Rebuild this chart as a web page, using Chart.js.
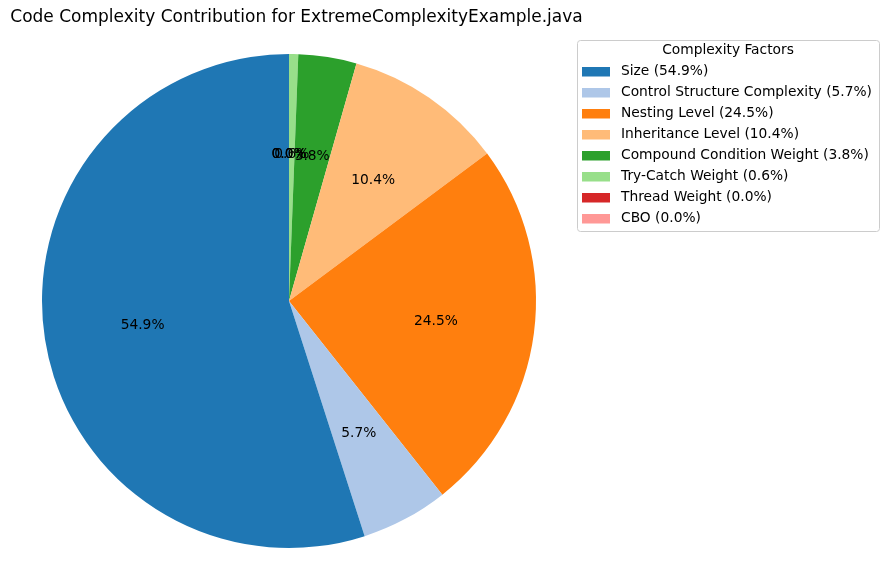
<!DOCTYPE html>
<html>
<head>
<meta charset="utf-8">
<script src="https://cdn.jsdelivr.net/npm/chart.js@4.4.0/dist/chart.umd.min.js"></script>
<style>
  html, body { margin: 0; padding: 0; background: #fff; }
  #wrap { width: 889px; height: 581px; position: relative; }
</style>
</head>
<body>
<div id="wrap"><canvas id="myChart" width="889" height="581"></canvas></div>
<script>
// complexity factors, in legend order (matplotlib draws them counterclockwise from the top)
const factorNames = [
  "Size",
  "Control Structure Complexity",
  "Nesting Level",
  "Inheritance Level",
  "Compound Condition Weight",
  "Try-Catch Weight",
  "Thread Weight",
  "CBO"
];
const factorShares = [54.9, 5.7, 24.5, 10.4, 3.8, 0.6, 0.0, 0.0];
const factorColors = ["#1f77b4", "#aec7e8", "#ff7f0e", "#ffbb78", "#2ca02c", "#98df8a", "#d62728", "#ff9896"];
const chartTitle = "Code Complexity Contribution for ExtremeComplexityExample.java";
const legendTitle = "Complexity Factors";

const FONT = "'DejaVu Sans', sans-serif";

// chart.js goes clockwise, so feed it the reversed order
const revNames = factorNames.slice().reverse();
const revShares = factorShares.slice().reverse();
const revColors = factorColors.slice().reverse();

const extrasPlugin = {
  id: 'extras',
  afterDraw(chart) {
    const ctx = chart.ctx;
    ctx.save();

    // title
    ctx.fillStyle = '#000';
    ctx.font = '17px ' + FONT;
    ctx.textAlign = 'center';
    ctx.textBaseline = 'middle';
    ctx.fillText(chartTitle, 296.5, 18);

    // percentage labels at 0.6 radius
    ctx.font = '13.8px ' + FONT;
    const meta = chart.getDatasetMeta(0);
    meta.data.forEach((arc, i) => {
      const mid = (arc.startAngle + arc.endAngle) / 2;
      const r = arc.outerRadius * 0.6;
      const x = arc.x + Math.cos(mid) * r;
      const y = arc.y + Math.sin(mid) * r;
      ctx.fillText(revShares[i].toFixed(1) + '%', x, y + 1.5);
    });

    // legend box
    const bx = 577.5, by = 40.5, bw = 302, bh = 191;
    ctx.beginPath();
    ctx.roundRect(bx, by, bw, bh, 3);
    ctx.fillStyle = 'rgba(255,255,255,0.8)';
    ctx.fill();
    ctx.strokeStyle = '#cccccc';
    ctx.lineWidth = 1;
    ctx.stroke();

    ctx.fillStyle = '#000';
    ctx.font = '13.8px ' + FONT;
    ctx.textAlign = 'center';
    ctx.fillText(legendTitle, 728, 50);

    ctx.textAlign = 'left';
    factorNames.forEach((name, i) => {
      const yc = 71.5 + i * 21;
      ctx.fillStyle = factorColors[i];
      ctx.fillRect(582, yc - 4.5, 28, 9.5);
      ctx.fillStyle = '#000';
      ctx.fillText(name + ' (' + factorShares[i].toFixed(1) + '%)', 621, yc);
    });

    ctx.restore();
  }
};

new Chart(document.getElementById('myChart'), {
  type: 'pie',
  data: {
    labels: revNames,
    datasets: [{
      data: revShares,
      backgroundColor: revColors,
      borderWidth: 0
    }]
  },
  options: {
    responsive: false,
    animation: false,
    layout: { padding: { left: 42, right: 353, top: 54, bottom: 33 } },
    plugins: {
      legend: { display: false },
      title: { display: false },
      tooltip: { enabled: false }
    }
  },
  plugins: [extrasPlugin]
});
</script>
</body>
</html>
